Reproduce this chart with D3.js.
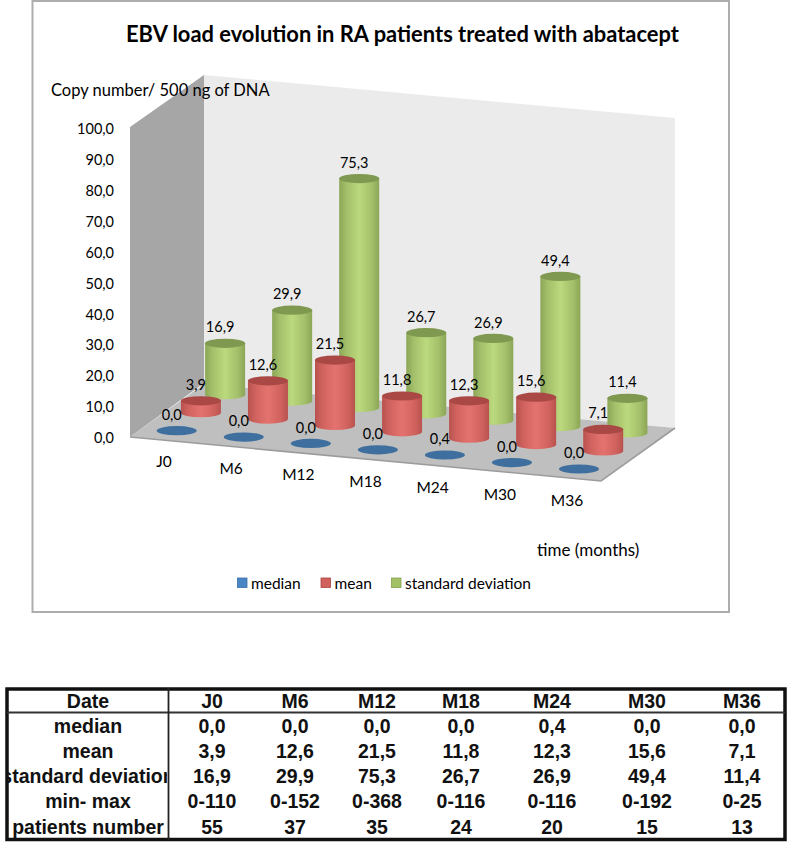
<!DOCTYPE html>
<html><head><meta charset="utf-8">
<script src="https://cdnjs.cloudflare.com/ajax/libs/d3/7.8.5/d3.min.js"></script>
<style>html,body{margin:0;padding:0;background:#fff}svg{display:block}</style>
</head><body><svg id="c" width="790" height="842"></svg>
<script>
const categories=["J0","M6","M12","M18","M24","M30","M36"];
const median=[0,0,0,0,0.4,0,0];
const mean=[3.9,12.6,21.5,11.8,12.3,15.6,7.1];
const stdDev=[16.9,29.9,75.3,26.7,26.9,49.4,11.4];
const minMax=["0-110","0-152","0-368","0-116","0-116","0-192","0-25"];
const patients=["55","37","35","24","20","15","13"];
const yTicks=[0,10,20,30,40,50,60,70,80,90,100];
const rowNames=["median","mean","standard deviation","min- max","patients number"];

const svg=d3.select("#c");
const chartFont="Lato, Carlito, Calibri, sans-serif";
const fr=d3.formatLocale({decimal:",",thousands:" ",grouping:[3],currency:["","€"]}).format(".1f");

// chart frame
svg.append("rect").attr("x",32.5).attr("y",1).attr("width",696.5).attr("height",611).attr("fill","#fff").attr("stroke","#adadad").attr("stroke-width",2);

// walls and floor
const poly=(pts,fill)=>svg.append("polygon").attr("points",pts.map(p=>p.join(",")).join(" ")).attr("fill",fill);
const defs=svg.append("defs");
const grad=(id,stops)=>{const g=defs.append("linearGradient").attr("id",id);stops.forEach(([o,c])=>g.append("stop").attr("offset",o).attr("stop-color",c));};
grad("gGreen",[[0,"#8ba656"],[.18,"#a3bf6a"],[.5,"#bbd97d"],[.82,"#a3bf6a"],[1,"#8ba656"]]);
grad("gRed",[[0,"#b8524e"],[.18,"#d0625e"],[.5,"#e4736f"],[.82,"#d0625e"],[1,"#b8524e"]]);
poly([[130,127],[204,75],[204,383],[130,437]],"#a6a6a6");
poly([[204,75],[675,118],[675,428],[204,384]],"#ebebeb");
poly([[130,437],[204,384],[675,428],[601,481]],"#bfbfbf");
svg.append("polyline").attr("points","130,437 601,481 675,428").attr("fill","none").attr("stroke","#9c9c9c").attr("stroke-width",1.6);

// scales
const xS=d3.scalePoint().domain(categories).range([176.7,579]);
const yBase=d3.scalePoint().domain(categories).range([430.7,469]);
const h=d3.scaleLinear().domain([0,100]).range([0,304]);
const yAxisScale=d3.scaleLinear().domain([0,100]).range([438,129]);
const rx=20,ry=4.6;

const seriesDefs=[
 {name:"standard deviation",vals:stdDev,depth:2,side:"url(#gGreen)",top:"#7f9a50"},
 {name:"mean",vals:mean,depth:1,side:"url(#gRed)",top:"#a94844"},
 {name:"median",vals:median,depth:0,side:"#3f6f9e",top:"#3f6f9e"}
];
const dx=24.2,dy=-18;
const labels=[];
seriesDefs.forEach(s=>{
  const g=svg.append("g").attr("class","series");
  categories.forEach((c,i)=>{
    const x=xS(c)+s.depth*dx, yb=yBase(c)+s.depth*dy, yt=yb-h(s.vals[i]);
    if(s.vals[i]>0.5){
      g.append("path").attr("d",`M${x-rx},${yt}L${x-rx},${yb}A${rx},${ry} 0 0 0 ${x+rx},${yb}L${x+rx},${yt}Z`).attr("fill",s.side);
    }
    g.append("ellipse").attr("cx",x).attr("cy",yt).attr("rx",rx).attr("ry",ry).attr("fill",s.top);
    labels.push({x:x-5,y:yt-16,t:fr(s.vals[i])});
  });
});
svg.append("g").selectAll("text").data(labels).join("text")
  .attr("x",d=>d.x).attr("y",d=>d.y).attr("dy",".35em").attr("text-anchor","middle")
  .attr("font-family",chartFont).attr("font-size",14.5).attr("fill","#000").text(d=>d.t);

// y axis
const ax=svg.append("g").attr("transform","translate(116,0)").call(d3.axisLeft(yAxisScale).tickValues(yTicks).tickSize(0).tickPadding(2).tickFormat(fr));
ax.select(".domain").remove();
ax.selectAll("text").attr("font-family",chartFont).attr("font-size",14.5).attr("fill","#000");

// category labels
const catX=d3.scalePoint().domain(categories).range([164,567]);
const catY=d3.scalePoint().domain(categories).range([462,501]);
svg.append("g").selectAll("text").data(categories).join("text")
  .attr("x",d=>catX(d)).attr("y",d=>catY(d)).attr("dy",".35em").attr("text-anchor","middle")
  .attr("font-family",chartFont).attr("font-size",15.5).text(d=>d);

const txt=(x,y,t,size,weight)=>svg.append("text").attr("x",x).attr("y",y).attr("font-family",chartFont).attr("font-size",size).attr("font-weight",weight||400).attr("fill","#000").text(t);
txt(126,42,"EBV load evolution in RA patients treated with abatacept",21.9,700);
txt(51,96,"Copy number/ 500 ng of DNA",16.5);
txt(537,556,"time (months)",17);

// legend
const legend=[{n:"median",c:"#4a86c5",s:"#3a6fa6",x:237.5},{n:"mean",c:"#d0605c",s:"#a84541",x:321},{n:"standard deviation",c:"#a3c266",s:"#84a04e",x:391.5}];
legend.forEach(l=>{
  svg.append("rect").attr("x",l.x).attr("y",578).attr("width",9.5).attr("height",9.5).attr("fill",l.c).attr("stroke",l.s).attr("stroke-width",.8);
  txt(l.x+13.5,589,l.n,15.5);
});

// table
const tableRows=[
  ["Date",...categories],
  [rowNames[0],...median.map(fr)],
  [rowNames[1],...mean.map(fr)],
  [rowNames[2],...stdDev.map(fr)],
  [rowNames[3],...minMax],
  [rowNames[4],...patients]
];
const colX=[88,212,295,377,461,552,647,742];
const rowY=d3.scalePoint().domain(d3.range(6)).range([700.5,826.5]);
defs.append("clipPath").attr("id","firstCol").append("rect").attr("x",8).attr("y",688).attr("width",159).attr("height",152);
const t=svg.append("g");
t.append("rect").attr("x",7).attr("y",689).attr("width",778).attr("height",150.5).attr("fill","#fff").attr("stroke","#111").attr("stroke-width",3.5);
t.append("line").attr("x1",7).attr("x2",785).attr("y1",712.5).attr("y2",712.5).attr("stroke","#333").attr("stroke-width",1.8);
t.append("line").attr("x1",168.5).attr("x2",168.5).attr("y1",688).attr("y2",840).attr("stroke","#222").attr("stroke-width",1.8);
tableRows.forEach((r,ri)=>{
  r.forEach((v,ci)=>{
    const e=t.append("text").attr("x",colX[ci]).attr("y",rowY(ri)).attr("dy",".36em").attr("text-anchor","middle")
      .attr("font-family","'Liberation Sans',Arial,sans-serif").attr("font-weight",700).attr("font-size",19.5).attr("fill","#111").text(v);
    if(ci===0) e.attr("clip-path","url(#firstCol)");
  });
});
</script></body></html>
